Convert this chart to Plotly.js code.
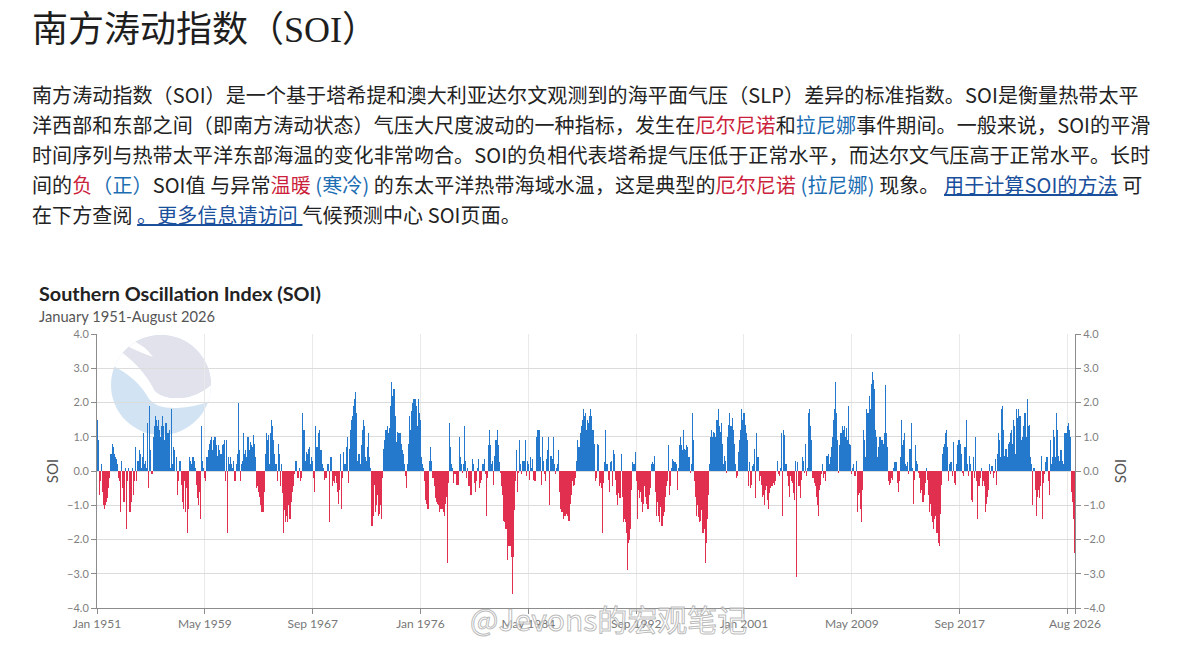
<!DOCTYPE html>
<html>
<head>
<meta charset="utf-8">
<script src="https://cdn.plot.ly/plotly-3.0.1.min.js"></script>
<style>
  html, body { margin: 0; padding: 0; background: #fff; }
  body { width: 1180px; height: 645px; position: relative; overflow: hidden; }
  #h1 { position: absolute; left: 32px; top: 11px; margin: 0; font-size: 36px; line-height: 38px;
        font-family: "Liberation Serif", "Noto Sans CJK SC", serif; font-weight: normal; color: #1e1e1e; white-space: nowrap; }
  #intro { position: absolute; left: 32px; top: 80px; margin: 0; font-size: 20px; line-height: 30px; letter-spacing: 0.1px;
        font-family: "Noto Sans CJK SC", "Noto Sans", sans-serif; color: #222; white-space: nowrap; }
  .r { color: #cc1f3c; }
  .b { color: #1b6db3; }
  .lk { color: #1a4f9c; text-decoration: underline; }
  #chart { position: absolute; left: 0; top: 270px; width: 1180px; height: 375px; }
  #wm { position: absolute; left: 470px; top: 598px; font-size: 30px; line-height: 40px; white-space: nowrap;
        font-family: "Noto Sans CJK SC", sans-serif; color: rgba(255,255,255,0.6);
        -webkit-text-stroke: 1px rgba(150,150,150,0.65); pointer-events: none; }
</style>
</head>
<body>
<h1 id="h1">南方涛动指数（SOI）</h1>
<p id="intro">南方涛动指数（SOI）是一个基于塔希提和澳大利亚达尔文观测到的海平面气压（SLP）差异的标准指数。SOI是衡量热带太平<br>洋西部和东部之间（即南方涛动状态）气压大尺度波动的一种指标，发生在<span class="r">厄尔尼诺</span>和<span class="b">拉尼娜</span>事件期间。一般来说，SOI的平滑<br>时间序列与热带太平洋东部海温的变化非常吻合。SOI的负相代表塔希提气压低于正常水平，而达尔文气压高于正常水平。长时<br>间的<span class="r">负</span><span class="b">（正）</span>SOI值 与异常<span class="r">温暖</span> <span class="b">(寒冷)</span> 的东太平洋热带海域水温，这是典型的<span class="r">厄尔尼诺</span> <span class="b">(拉尼娜)</span> 现象。 <span class="lk">用于计算SOI的方法</span> 可<br>在下方查阅 <span class="lk">。更多信息请访问 </span>气候预测中心 SOI页面。</p>
<div id="chart"></div>
<div id="wm">@Jevons的宏观笔记</div>
<script>
// Monthly SOI values, January 1951 - August 2026
const soi1950s = [
  1.5, 0.9, -0.7, -0.3, 0.2, -0.6, -1.0, -1.1, -1.0, -0.9, -0.8, -0.5,   // 1951
  -0.2, 0.5, 0.8, 0.7, 0.5, 0.4, 0.35, 0.2, -0.2, -0.3, -1.2, 0.3,      // 1952
  -0.5, -0.9, 0.1, -1.7, -0.3, 0.1, -1.2, -1.2, -0.9, 0.1, -0.7, -0.3,  // 1953
  0.7, -0.3, 0.3, 0.6, 0.5, 0.1, 0.4, 1.1, 0.2, 0.3, 0.1, 1.4,          // 1954
  -0.5, 1.9, 0.6, -0.1, 1.0, 1.3, 1.6, 1.5, 1.3, 1.5, 1.2, 1.0,         // 1955
  1.3, 1.6, 1.3, 0.9, 1.4, 1.1, 1.1, 1.2, 0.1, 1.8, 0.2, 0.7,           // 1956
  0.6, 0.0, 0.4, -0.7, -0.3, 0.3, -0.4, -0.9, -1.1, -0.3, -1.2, -0.5,   // 1957
  -1.8, -1.1, 0.4, 0.3, 0.2, 0.4, 0.3, 0.1, -0.4, -0.8, -1.0, -0.6,     // 1958
  -1.4, 1.3, 0.3, 0.1, -0.2, -0.3, 0.4, 0.6, 0.8, 0.9, 1.0, 0.6         // 1959
];
const soi1960s = [
  0.9, 1.0, 1.0, 0.75, 0.45, 0.75, 0.6, 0.5, 0.75, 0.8, 0.9, -0.3,     // 1960
  0.9, -1.8, 0.4, 0.2, 0.4, 0.2, 0.1, 0.3, -0.3, 0.2, 0.5, 2.0,         // 1961
  0.6, -0.3, 0.2, 0.3, 1.1, 0.5, 0.6, 0.4, 1.0, 0.6, 0.85, 0.75,       // 1962
  0.7, 1.05, 0.8, 0.4, -0.5, -0.45, -0.6, -0.75, -1.0, -1.2, -1.2, -0.6, // 1963
  0.5, 1.1, 0.9, 1.05, 0.2, 1.1, 1.5, 1.3, 0.9, 0.5, 0.2, -0.3,        // 1964
  0.8, 0.5, -0.45, 0.2, -0.65, -1.8, -1.15, -1.5, -1.3, -1.5, -1.0, -1.4, // 1965
  -0.9, -0.6, -0.45, -0.1, 0.3, 0.3, -0.2, -0.2, 0.1, -0.3, -0.2, 1.7, // 1966
  1.2, 0.3, 0.55, 0.5, 0.65, 0.7, 0.2, 0.4, 0.3, -0.2, -0.6, 1.3,      // 1967
  0.7, 1.1, 1.2, 0.6, 0.6, 0.2, 0.1, -0.25, -0.2, -0.2, 0.2, 0.2,      // 1968
  -1.5, 0.4, -0.45, -0.3, -0.35, -0.15, -0.35, -0.6, -0.95, -0.55, 0.5, -1.1 // 1969
];
const soi1970s = [
  -0.2, 0.55, 0.2, 0.7, 1.0, -0.35, 0.65, 1.2, 1.5, 1.6, 1.9, 2.1,     // 1970
  2.3, 1.7, 0.3, 0.5, 0.2, 0.75, 1.2, 1.5, 1.3, 0.4, 0.3, 0.7,         // 1971
  1.1, 0.4, 0.1, -1.6, -1.3, -0.4, -1.2, -1.0, -0.7, -1.3, -1.25, -1.0, // 1972
  -1.4, -0.2, 0.65, 0.9, 1.2, 1.3, 1.1, 1.25, 1.9, 2.6, 2.2, 2.4,      // 1973
  2.4, 1.6, 0.85, 1.15, 1.1, 1.1, 0.8, 0.6, 0.5, 0.2, -0.15, -0.5,     // 1974
  0.2, 0.8, 1.6, 1.2, 1.75, 2.0, 2.1, 2.1, 1.9, 1.3, 2.1, 1.7,         // 1975
  1.5, 0.4, 0.2, 0.1, -0.3, -0.85, -0.95, -1.1, 0.3, 0.7, 0.3, -0.2,   // 1976
  -0.2, -0.45, -0.8, -0.9, -0.95, -1.0, -1.2, -1.1, -1.1, -1.2, -1.3, -0.95, // 1977
  -0.75, -2.7, -0.35, 1.4, 0.7, 0.2, 0.1, -0.35, -0.1, -0.4, -0.4, -0.4, // 1978
  1.0, 0.4, 0.2, -0.05, 0.2, 1.3, 0.3, -0.2, 0.1, -0.45, -0.7, -0.7    // 1979
];
const soi1980s = [
  0.35, 0.2, -0.35, -0.6, -0.3, 0.1, 0.35, -0.5, -0.35, -0.25, 0.2, 0.35, // 1980
  -0.1, -1.3, -0.2, 0.75, 1.2, 0.75, 0.2, 0.3, -0.4, 0.45, 0.9, 1.2,   // 1981
  0.75, 0.25, -0.05, -0.45, -0.7, -1.45, -1.5, -1.7, -1.7, -2.6, -2.2, -2.2, // 1982
  -2.5, -3.6, -2.5, -1.15, -0.3, 0.6, -0.6, -0.05, 0.9, 0.2, -0.1, 0.3, // 1983
  0.3, 0.9, -0.15, 0.3, 0.2, -0.25, 0.4, 0.1, 0.35, -0.25, -0.3, -0.3, // 1984
  1.0, 1.2, 1.2, 0.4, -0.4, 1.0, 0.3, -0.1, -0.3, 0.35, 0.6, 1.0,      // 1985
  -1.0, 0.45, 0.35, 1.0, 0.2, -0.1, 0.1, 0.2, 0.6, -0.6, -1.1, -1.2,   // 1986
  -1.2, -1.4, -1.3, -1.25, -1.3, -1.45, -1.45, -0.95, -0.7, -0.3, -0.45, -0.4, // 1987
  -0.2, 0.3, 0.9, 0.7, 1.1, 1.3, 1.5, 1.8, 1.6, 1.7, 1.2, 1.5,         // 1988
  1.4, 1.6, 1.8, 1.6, 1.2, 0.8, -0.3, -0.2, 0.8, 0.75, -0.45, -0.35    // 1989
];
const soi1990s = [
  -0.5, -1.8, -0.35, 0.25, 1.2, 0.2, -0.25, -0.6, 0.25, 0.3, -0.45, 0.6, // 1990
  0.5, -0.25, -0.7, -1.0, -0.65, -0.8, 0.5, -0.75, -1.5, -1.4, -1.5, -1.8, // 1991
  -2.9, -2.1, -2.0, -1.7, -0.55, 0.25, 0.2, 0.55, -0.3, -1.4, -0.55, -0.8, // 1992
  -0.6, -0.9, -1.2, -0.95, -0.45, -0.75, -0.95, -1.1, -0.7, -0.5, 0.2, 0.25, // 1993
  0.2, 0.45, -0.6, -1.3, -0.9, -1.3, -1.5, -1.05, -1.6, -1.3, -1.2, -0.75, // 1994
  -0.45, -0.3, 0.75, -0.7, -0.45, 0.1, 0.35, 0.3, 0.25, 0.2, -0.55, 0.1, // 1995
  0.75, 1.0, 0.75, 0.6, 1.2, 0.65, 0.6, 0.75, 0.7, 0.4, -0.05, 0.2,    // 1996
  1.7, 0.9, -0.3, -0.75, -1.3, -1.0, -1.35, -1.5, -1.45, -1.15, -1.8, -1.7, // 1997
  -2.7, -2.1, -1.4, -0.7, 0.2, 1.0, 1.2, 1.0, 1.15, 1.1, 1.0, 1.5,     // 1998
  1.8, 1.3, 1.15, 1.4, 0.8, 0.2, 0.45, 0.3, -0.05, 1.0, 1.35, 1.7      // 1999
];
const soi2000s = [
  1.3, 1.55, 1.2, 0.8, 0.2, -0.2, -0.15, 0.55, 0.9, 1.2, 1.8, 1.5,     // 2000
  1.7, 1.35, 1.1, 0.9, -0.45, 0.25, -0.5, -0.4, 0.15, 0.2, 0.65, -0.8, // 2001
  1.1, 0.4, -0.3, -0.15, -0.4, -0.75, -0.7, -1.0, -0.55, -0.45, -0.85, -1.1, // 2002
  -0.65, -0.5, -0.45, -0.35, -0.4, -0.3, 0.0, 0.3, -0.1, -0.15, 0.1, 1.1, // 2003
  -1.3, 1.2, 1.05, 0.2, -0.15, -0.45, -0.75, -0.15, -0.3, -0.35, -0.65, -0.85, // 2004
  0.3, -3.1, 0.25, -0.45, -0.8, -0.25, 0.4, 0.3, -0.05, 0.8, -0.15, 0.1, // 2005
  1.7, 1.8, 1.3, 0.9, -0.2, -0.35, -0.45, -0.75, -1.0, -1.3, -0.55, -0.4, // 2006
  -0.1, 0.2, -0.2, -0.1, -0.3, 0.45, 0.5, 0.2, 0.4, 0.7, 1.0, 1.5,     // 2007
  1.8, 2.6, 1.7, 0.9, -0.05, 0.75, 1.1, 1.3, 1.2, 1.3, 1.0, 1.25,      // 2008
  0.9, 1.9, 0.8, 0.75, -0.1, 0.1, 0.2, -0.15, 0.3, -1.2, -0.7, -0.65   // 2009
];
const soi2010s = [
  -1.1, -1.5, -0.55, 1.2, 0.9, 0.4, 1.8, 1.7, 2.2, 1.8, 2.55, 2.9,     // 2010
  2.65, 2.4, 1.2, 1.0, 0.4, 0.7, 1.0, 1.0, 0.9, 0.8, 1.1, 2.5,         // 2011
  1.1, 0.7, -0.3, -0.4, -0.35, -0.2, -0.25, 0.1, 0.25, 0.25, -0.35, -0.6, // 2012
  -0.3, 0.4, 1.5, 0.75, 0.9, 1.1, 0.2, 0.15, 0.25, -0.1, 0.65, 1.4,    // 2013
  0.1, -0.95, -0.25, 0.75, 0.3, 0.2, -0.05, -0.2, -0.65, -0.55, -0.9, -0.7, // 2014
  -0.35, 0.1, -0.25, -0.7, -1.2, -0.95, -1.3, -1.5, -1.7, -1.4, -1.3, -1.8, // 2015
  -2.1, -2.2, -1.25, -0.4, 0.5, 0.7, 0.8, 1.1, 1.2, 0.7, -0.3, 0.2,    // 2016
  0.25, -0.15, 0.85, -0.35, -0.4, 0.2, 0.75, 0.9, 0.9, 0.8, 0.5, -0.05, // 2017
  -0.15, 0.7, 1.5, 0.2, -0.15, 0.45, 0.2, -0.85, -0.9, 0.4, -0.2, 1.0, // 2018
  -0.3, -1.4, -0.45, -0.2, 0.1, -0.45, -0.3, -0.45, -1.2, -0.95, -0.75, -0.55 // 2019
];
const soi2020s = [
  0.2, -0.1, 0.15, -0.2, -0.05, 0.35, -0.4, 0.5, 1.1, 0.9, 0.4, 1.8,  // 2020
  1.9, 1.2, 0.45, 0.65, 0.4, 0.8, 0.85, 1.1, 1.2, 0.8, 1.5, 1.3,       // 2021
  0.5, 1.8, 1.55, 1.8, 1.6, 0.9, 1.0, 1.3, 1.7, 1.7, 1.0, 2.1,         // 2022
  1.3, 1.35, 0.4, 0.2, -1.0, 0.1, -0.55, -1.3, -0.75, -0.55, -0.8, -0.45, // 2023
  0.45, -1.4, -0.35, -0.1, 0.25, 0.4, -0.3, -0.7, 0.9, 0.2, 0.4, 1.2,  // 2024
  1.0, 0.4, 1.7, 1.2, 0.45, 0.3, 0.6, 0.3, 0.2, 1.1, 1.1, 1.1,         // 2025
  1.3, 1.4, 1.2, 1.0, -0.6, -0.9, -1.4, -2.4                           // 2026 (Jan-Aug)
];

const tickMonths = [0, 100, 200, 300, 400, 500, 600, 700, 800, 900, 907];
const tickLabels = ['Jan 1951', 'May 1959', 'Sep 1967', 'Jan 1976', 'May 1984', 'Sep 1992',
                    'Jan 2001', 'May 2009', 'Sep 2017', '', 'Aug 2026'];
const yTicks = [-4, -3, -2, -1, 0, 1, 2, 3, 4];

const chartTitle = 'Southern Oscillation Index (SOI)';
const chartSubtitle = 'January 1951-August 2026';
const axisTitle = 'SOI';

const soi = [].concat(soi1950s, soi1960s, soi1970s, soi1980s, soi1990s, soi2000s, soi2010s, soi2020s);
const monthIndex = soi.map((v, i) => i);
const POS = '#2479cc', NEG = '#e1304f';
const barColors = soi.map(v => v >= 0 ? POS : NEG);

const logoSvg = "<svg xmlns='http://www.w3.org/2000/svg' viewBox='0 0 100 100'>" +
  "<defs><clipPath id='c'><circle cx='50' cy='50' r='50'/></clipPath></defs>" +
  "<g clip-path='url(#c)'>" +
  "<rect width='100' height='100' fill='#c7ddf2'/>" +
  "<path d='M0,10 Q30,28 44,56 Q52,64 70,63 Q86,62 100,50 L100,66 Q84,72 66,73 Q46,74 38,64 Q26,42 0,30 Z' fill='#ffffff'/>" +
  "<path d='M0,0 H100 V50 Q86,62 70,63 Q52,64 44,56 Q30,28 0,10 Z' fill='#dadbe7'/>" +
  "<path d='M18,4 Q34,10 42,22 Q30,18 14,10 Z' fill='#ffffff'/>" +
  "</g></svg>";
const logoSrc = 'data:image/svg+xml;charset=utf-8,' + encodeURIComponent(logoSvg);

const fontFam = 'Lato, "Noto Sans", sans-serif';

const traces = [
  {
    type: 'bar', x: monthIndex, y: soi, yaxis: 'y',
    marker: { color: barColors, line: { width: 0 } },
    width: 1, hoverinfo: 'skip', showlegend: false
  },
  {
    type: 'scatter', mode: 'none', x: monthIndex, y: soi, yaxis: 'y2',
    hoverinfo: 'skip', showlegend: false
  }
];

const axisCommon = {
  range: [-4, 4], tickvals: yTicks, tickformat: '.1f',
  showline: true, linecolor: '#8c8c8c', linewidth: 1,
  ticks: 'outside', ticklen: 5, tickcolor: '#8c8c8c',
  tickfont: { family: fontFam, size: 11, color: '#808080' },
  zeroline: false, fixedrange: true
};

const layout = {
  width: 1180, height: 375,
  margin: { l: 97, r: 105, t: 64, b: 37 },
  paper_bgcolor: 'rgba(0,0,0,0)', plot_bgcolor: 'rgba(0,0,0,0)',
  font: { family: fontFam, color: '#555' },
  bargap: 0,
  xaxis: {
    range: [0, 907], tickvals: tickMonths, ticktext: tickLabels, tickangle: 0,
    showgrid: true, gridcolor: '#e9e9e9', gridwidth: 1,
    showline: true, linecolor: '#8c8c8c', linewidth: 1,
    ticks: 'outside', ticklen: 5, tickcolor: '#8c8c8c',
    tickfont: { family: fontFam, size: 12, color: '#777' },
    zeroline: false, fixedrange: true
  },
  yaxis: Object.assign({}, axisCommon, {
    side: 'left', showgrid: true, gridcolor: '#dcdcdc', gridwidth: 1,
    title: { text: axisTitle, font: { family: fontFam, size: 15, color: '#555' }, standoff: 4 }
  }),
  yaxis2: Object.assign({}, axisCommon, {
    side: 'right', overlaying: 'y', showgrid: false,
    title: { text: axisTitle, font: { family: fontFam, size: 15, color: '#555' }, standoff: 10 }
  }),
  images: [{
    source: logoSrc, xref: 'paper', yref: 'paper',
    x: (161 - 97) / 978, y: 1 - (385 - 334) / 274,
    sizex: 100 / 978, sizey: 100 / 274, sizing: 'stretch',
    xanchor: 'center', yanchor: 'middle', layer: 'below', opacity: 0.8
  }],
  annotations: [
    { text: '<b>' + chartTitle + '</b>', xref: 'paper', yref: 'paper',
      x: (37 - 97) / 978, y: (608 - 293) / 274, xanchor: 'left', yanchor: 'middle',
      showarrow: false, font: { family: fontFam, size: 19.8, color: '#222' } },
    { text: chartSubtitle, xref: 'paper', yref: 'paper',
      x: (37 - 97) / 978, y: (608 - 316) / 274, xanchor: 'left', yanchor: 'middle',
      showarrow: false, font: { family: fontFam, size: 14.7, color: '#555' } }
  ]
};

Plotly.newPlot('chart', traces, layout, { staticPlot: true, displayModeBar: false });
</script>
</body>
</html>
